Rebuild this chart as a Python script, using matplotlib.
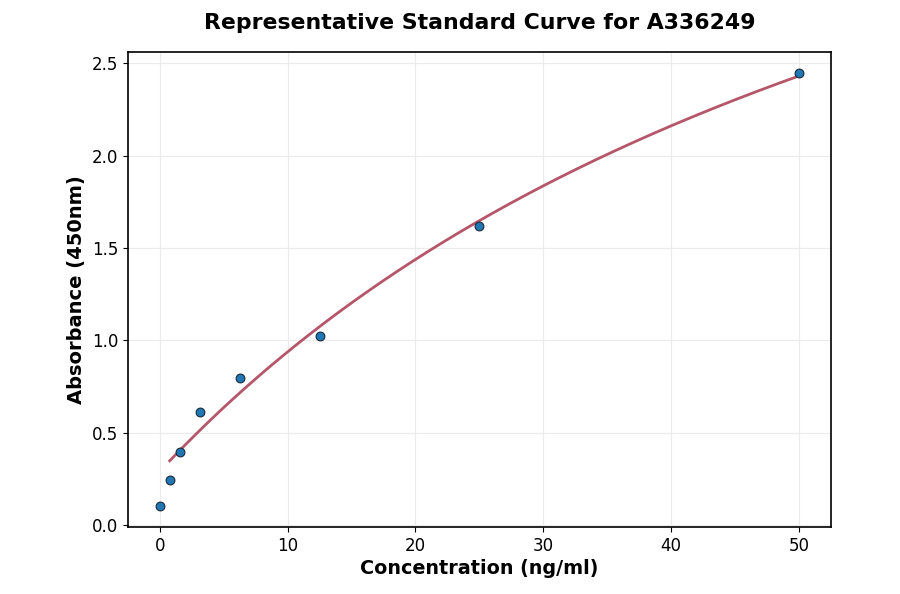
import numpy as np
import matplotlib
matplotlib.use("Agg")
import matplotlib.pyplot as plt

# standard points
conc = [0.0, 0.78, 1.56, 3.125, 6.25, 12.5, 25.0, 50.0]
absorb = [0.103, 0.244, 0.395, 0.611, 0.795, 1.023, 1.618, 2.446]

title = "Representative Standard Curve for A336249"
xlabel = "Concentration (ng/ml)"
ylabel = "Absorbance (450nm)"


def fit_hyperbola(x, y):
    """
    y = d + k * c / (c + x), least squares: grid over c, linear solve for d, k
    """
    best = None
    for c in np.geomspace(1, 1000, 3000):
        A = np.vstack([np.ones_like(x), c / (c + x)]).T
        sol, *_ = np.linalg.lstsq(A, y, rcond=None)
        err = np.sum((A @ sol - y) ** 2)
        if best is None or err < best[0]:
            best = (err, c, sol)
    _, c, (d, k) = best
    return lambda t: d + k * c / (c + t)


x = np.array(conc)
y = np.array(absorb)
mask = x > 0
curve = fit_hyperbola(x[mask], y[mask])
xs = np.linspace(x[mask].min(), x.max(), 300)

fig, ax = plt.subplots(figsize=(9, 5.94), dpi=100)
ax.plot(xs, curve(xs), color="#b5566a", linewidth=2, zorder=2)
ax.scatter(x, y, s=40, color="#1f77b4", edgecolor="#1a2a3a", linewidth=0.8, zorder=3)

ax.set_title(title, fontsize=15.8, fontweight="bold", pad=17)
ax.set_xlabel(xlabel, fontsize=13.8, fontweight="bold", labelpad=3)
ax.set_ylabel(ylabel, fontsize=14, fontweight="bold")
ax.tick_params(labelsize=12)
ax.grid(True, color="#ebebeb", linewidth=0.8)
ax.set_axisbelow(True)
ax.set_xlim(-2.5, 52.5)
ax.set_ylim(-0.01, 2.56)
for s in ax.spines.values():
    s.set_linewidth(1.2)

fig.subplots_adjust(left=0.142, right=0.923, top=0.912, bottom=0.113)
fig.savefig("out.png", dpi=100)
